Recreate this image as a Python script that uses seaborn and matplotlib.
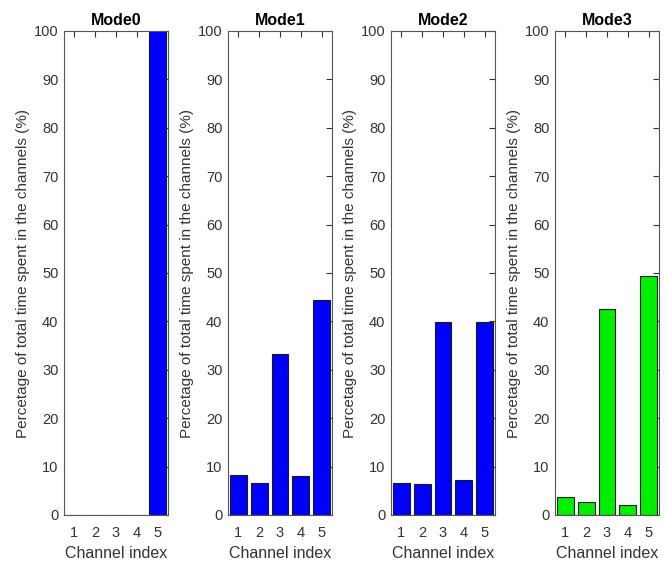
import numpy as np
import pandas as pd
import matplotlib
matplotlib.use('Agg')
import matplotlib.pyplot as plt
import seaborn as sns

channels = [1, 2, 3, 4, 5]
mode_names = ['Mode0', 'Mode1', 'Mode2', 'Mode3']
mode0 = [0, 0, 0, 0, 100]
mode1 = [8.3, 6.6, 33.2, 8.1, 44.5]
mode2 = [6.7, 6.5, 39.8, 7.2, 39.9]
mode3 = [3.8, 2.6, 42.6, 2.1, 49.3]
bar_colors = ['#0000ff', '#0000ff', '#0000ff', '#00ee00']

sns.set_style('white')
plt.rcParams['font.family'] = ['Liberation Sans', 'DejaVu Sans']

fig = plt.figure(figsize=(6.66, 5.61), dpi=100)
lefts = [64, 228, 391, 555]
ax_w = 104
bottom = (561 - 515) / 561
height = 484 / 561
grey = '#333333'

for i, (name, vals) in enumerate(zip(mode_names, [mode0, mode1, mode2, mode3])):
    ax = fig.add_axes([lefts[i] / 666, bottom, ax_w / 666, height])
    df = pd.DataFrame({'Channel': channels, 'Pct': vals})
    sns.barplot(data=df, x='Channel', y='Pct', ax=ax, color=bar_colors[i],
                saturation=1, edgecolor='#1a1a1a', linewidth=0.8, width=0.8)
    ax.set_xlim(-0.5, 4.5)
    ax.set_ylim(0, 100)
    ax.set_yticks(np.arange(0, 101, 10))
    ax.tick_params(direction='in', top=True, right=True, length=4,
                   width=0.8, colors=grey, labelsize=10.5)
    ax.tick_params(axis='x', pad=8)
    ax.tick_params(axis='y', pad=4)
    for sp in ax.spines.values():
        sp.set_color('#555555')
        sp.set_linewidth(0.8)
        sp.set_visible(True)
    ax.set_title(name, fontsize=11.5, fontweight='bold', color='black', pad=4)
    ax.set_xlabel('Channel index', fontsize=11.5, color=grey, labelpad=4)
    ax.set_ylabel('Percetage of total time spent in the channels (%)',
                  fontsize=11, color=grey, labelpad=3)

fig.savefig('out.png', dpi=100)
